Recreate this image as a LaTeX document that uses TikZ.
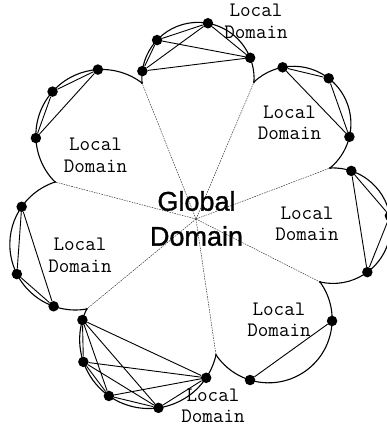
\documentclass[tikz,border=0pt]{standalone}
\usepackage{fontspec}
\newfontfamily\glbfont[FakeBold=1.2]{Liberation Sans}
\usetikzlibrary{calc}
\begin{document}
\begin{tikzpicture}[x=1pt,y=-1pt,
  petal/.style={line width=1.1pt},
  edge/.style={line width=0.9pt},
  spoke/.style={line width=0.45pt, dash pattern=on 1.6pt off 1pt, black!85},
  vtx/.style={circle, fill=black, inner sep=0pt, minimum size=10.5pt},
  cusp/.style={circle, fill=black, inner sep=0pt, minimum size=2.4pt},
  local/.style={font=\ttfamily\addfontfeatures{FakeBold=0.6}\fontsize{20.5}{21.5}\selectfont, align=center, inner sep=0pt},
  global/.style={font=\glbfont\fontsize{27}{35}\selectfont, align=center, inner sep=0pt}]
\useasboundingbox (0,0) rectangle (387,429);
\clip (0,0) rectangle (387,429);

% centre of the global domain and the cusps between local domains
\coordinate (O) at (196,219);
\coordinate (C1) at (142,83);
\coordinate (C2) at (254,82);
\coordinate (C3) at (330,168);
\coordinate (C4) at (320,282);
\coordinate (C5) at (216,355);
\coordinate (C6) at (86.7,309);
\coordinate (C7) at (55,182);

% centres of the petal circles
\coordinate (P1) at (198,78.5);
\coordinate (P2) at (293.5,123.7);
\coordinate (P3) at (333.0,225.7);
\coordinate (P4) at (268.6,319.3);
\coordinate (P5) at (148.7,339.5);
\coordinate (P6) at (75.4,244.4);
\coordinate (P7) at (101.9,135.5);

% partition lines
\foreach \c in {C1,C2,C3,C4,C5,C6,C7} \draw[spoke] (O) -- (\c);

% boundaries of the local domains
\draw[petal] (C1) arc[start angle=175.4, end angle=363.6, radius=56.14];
\draw[petal] (C2) arc[start angle=226.55, end angle=410.5, radius=57.43];
\draw[petal] (C3) arc[start angle=267, end angle=463, radius=57.76];
\draw[petal] (C4) arc[start angle=324, end angle=505.8, radius=63.5];
\draw[petal] (C5) arc[start angle=13.0, end angle=206.2, radius=69.06];
\draw[petal] (C6) arc[start angle=80.1, end angle=251.9, radius=65.6];
\draw[petal] (C7) arc[start angle=135.25, end angle=307.4, radius=66.05];

\foreach \c in {C1,C2,C3,C4,C5,C6,C7} \node[cusp] at (\c) {};

% vertices on the boundaries
\node[vtx] (a1) at ($(P1)+(187.6:56.14)$) {};
\node[vtx] (a2) at ($(P1)+(223.2:56.14)$) {};
\node[vtx] (a3) at ($(P1)+(280.2:56.14)$) {};
\node[vtx] (a4) at ($(P1)+(338.3:56.14)$) {};

\node[vtx] (b1) at ($(P2)+(259.1:57.43)$) {};
\node[vtx] (b2) at ($(P2)+(307.8:57.43)$) {};
\node[vtx] (b3) at ($(P2)+(373.2:57.43)$) {};

\node[vtx] (c1) at ($(P3)+(288.5:57.76)$) {};
\node[vtx] (c2) at ($(P3)+(350.2:57.76)$) {};
\node[vtx] (c3) at ($(P3)+(413.5:57.76)$) {};

\node[vtx] (d1) at ($(P4)+(361.5:63.5)$) {};
\node[vtx] (d2) at ($(P4)+(107:63.5)$) {};

\node[vtx] (e1) at ($(P5)+(33.7:69.06)$) {};
\node[vtx] (e2) at ($(P5)+(81.9:69.06)$) {};
\node[vtx] (e3) at ($(P5)+(125.2:69.06)$) {};
\node[vtx] (e4) at ($(P5)+(161.1:69.06)$) {};
\node[vtx] (e5) at ($(P5)+(196.4:69.06)$) {};

\node[vtx] (f1) at ($(P6)+(109.4:65.6)$) {};
\node[vtx] (f2) at ($(P6)+(153.1:65.6)$) {};
\node[vtx] (f3) at ($(P6)+(215:65.6)$) {};

\node[vtx] (g1) at ($(P7)+(177.8:66.05)$) {};
\node[vtx] (g2) at ($(P7)+(221.65:66.05)$) {};
\node[vtx] (g3) at ($(P7)+(266.5:66.05)$) {};

% links inside each local domain
\draw[edge] (a1) -- (a2) (a1) -- (a3) (a1) -- (a4) (a2) -- (a3) (a2) -- (a4) (a3) -- (a4);
\draw[edge] (b1) -- (b2) (b2) -- (b3) (b1) -- (b3);
\draw[edge] (c1) -- (c2) (c2) -- (c3) (c1) -- (c3);
\draw[edge] (d1) -- (d2);
\draw[edge] (e1) -- (e2) (e1) -- (e3) (e1) -- (e4) (e1) -- (e5)
            (e2) -- (e3) (e2) -- (e4) (e2) -- (e5)
            (e3) -- (e4) (e3) -- (e5) (e4) -- (e5);
\draw[edge] (f1) -- (f2) (f2) -- (f3) (f1) -- (f3);
\draw[edge] (g1) -- (g2) (g2) -- (g3) (g1) -- (g3);

% labels
\node[local] (l1) at (256,21.5) {Local\\Domain};
\node[local] (l2) at (289.5,123) {Local\\Domain};
\node[local] (l3) at (307,224) {Local\\Domain};
\node[local] (l4) at (279,320) {Local\\Domain};
\node[local] (l5) at (213,406) {Local\\Domain};
\node[local] (l6) at (80,255.5) {Local\\Domain};
\node[local] (l7) at (95.5,155.5) {Local\\Domain};
\node[global] (gd) at (196.5,218.5) {Global\\Domain};
\end{tikzpicture}
\end{document}
